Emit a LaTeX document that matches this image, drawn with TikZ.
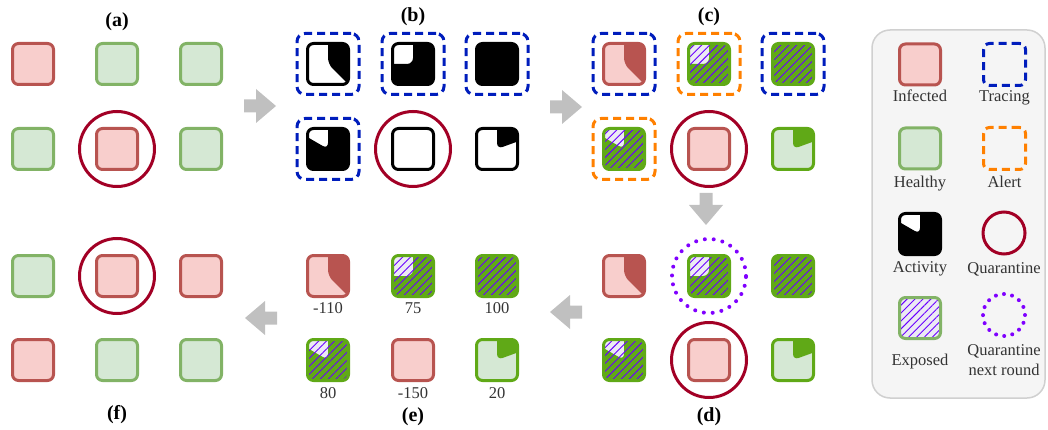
\documentclass[tikz,border=0pt]{standalone}
\usepackage{fontspec}
\setmainfont{Liberation Serif}
\usetikzlibrary{patterns.meta}
\definecolor{infF}{HTML}{F8CECC}
\definecolor{infD}{HTML}{B85450}
\definecolor{heaF}{HTML}{D5E8D4}
\definecolor{heaD}{HTML}{82B366}
\definecolor{expG}{HTML}{60A917}
\definecolor{lavF}{HTML}{ECEAF4}
\definecolor{hatchc}{HTML}{6A00FF}
\definecolor{trc}{HTML}{001DBC}
\definecolor{alr}{HTML}{FF8000}
\definecolor{qrn}{HTML}{A20025}
\definecolor{qnx}{HTML}{7F00FF}
\definecolor{arrc}{HTML}{C0C0C0}
\definecolor{txt}{HTML}{333333}
\definecolor{legF}{HTML}{F5F5F5}
\definecolor{legD}{HTML}{D0D0D0}
\newcommand\piefill[2]{\fill[#1] (path picture bounding box.center) -- ++(90:40pt) arc[start angle=90, delta angle=-#2, radius=40pt] -- cycle;}
\newcommand\hatchall{\fill[pattern={Lines[angle=45,distance=5.6pt,line width=0.9pt]}, pattern color=hatchc, fill opacity=0.55] (path picture bounding box.south west) rectangle (path picture bounding box.north east);}
\newcommand\rarrow[2]{\fill[arrc] (#1,#2+6.5) -- (#1+12,#2+6.5) -- (#1+12,#2+17) -- (#1+32,#2) -- (#1+12,#2-17) -- (#1+12,#2-6.5) -- (#1,#2-6.5) -- cycle;}
\newcommand\larrow[2]{\fill[arrc] (#1,#2) -- (#1+20,#2+17) -- (#1+20,#2+6.5) -- (#1+32,#2+6.5) -- (#1+32,#2-6.5) -- (#1+20,#2-6.5) -- (#1+20,#2-17) -- cycle;}
\newcommand\darrow[2]{\fill[arrc] (#1-6.5,#2) -- (#1+6.5,#2) -- (#1+6.5,#2-12) -- (#1+17,#2-12) -- (#1,#2-32) -- (#1-17,#2-12) -- (#1-6.5,#2-12) -- cycle;}
\tikzset{
 cellbox/.style={rectangle, minimum size=41pt, inner sep=0pt, outer sep=0pt, rounded corners=6pt, line width=3pt},
 inf/.style={cellbox, fill=infF, draw=infD},
 hea/.style={cellbox, fill=heaF, draw=heaD},
 iact/.style={cellbox, fill=infF, draw=infD, path picture={\piefill{infD}{#1}}},
 hact/.style={cellbox, fill=heaF, draw=expG, path picture={\piefill{expG}{#1}}},
 eact/.style={cellbox, fill=lavF, draw=expG, path picture={\piefill{expG}{#1}\hatchall}},
 bact/.style={cellbox, fill=white, draw=black, path picture={\piefill{black}{#1}}},
 legexp/.style={cellbox, fill=lavF, draw=heaD, path picture={\hatchall}},
 trace/.style={rectangle, minimum width=62pt, minimum height=61pt, inner sep=0pt, rounded corners=8pt, draw=trc, line width=3pt, dash pattern=on 8pt off 5pt},
 alert/.style={trace, draw=alr},
 qcirc/.style={circle, minimum size=75pt, inner sep=0pt, draw=qrn, line width=3pt},
 qnext/.style={circle, minimum size=74pt, inner sep=0pt, draw=qnx, line width=4pt, line cap=round, dash pattern=on 0pt off 8.9pt},
 val/.style={font=\fontsize{16.5}{18}\selectfont, text=txt, anchor=base, inner sep=0pt},
 plabel/.style={font=\fontsize{20}{22}\selectfont\bfseries, anchor=base, inner sep=0pt},
 legbox/.style={rectangle, minimum width=173pt, minimum height=368pt, rounded corners=18pt, fill=legF, draw=legD, line width=1.5pt}
}
\begin{document}
\begin{tikzpicture}[x=1pt,y=1pt]
\useasboundingbox (0,0) rectangle (1048,-430);
% panel labels
\node[plabel] (la) at (117,-27) {(a)};
\node[plabel] (lb) at (413,-22) {(b)};
\node[plabel] (lc) at (709,-22) {(c)};
\node[plabel] (ld) at (709,-421) {(d)};
\node[plabel] (le) at (413,-421) {(e)};
\node[plabel] (lf) at (117,-419) {(f)};
% panel (a)
\node[inf] (a11) at (33,-64) {};
\node[hea] (a12) at (117,-64) {};
\node[hea] (a13) at (201,-64) {};
\node[hea] (a21) at (33,-149) {};
\node[inf] (a22) at (117,-149) {};
\node[hea] (a23) at (201,-149) {};
\node[qcirc] (aq) at (a22) {};
% panel (b)
\node[bact=135] (b11) at (328,-64) {};
\node[bact=270] (b12) at (413,-64) {};
\node[bact=360] (b13) at (497,-64) {};
\node[bact=300] (b21) at (328,-149) {};
\node[cellbox, fill=white, draw=black] (b22) at (413,-149) {};
\node[bact=70] (b23) at (497,-149) {};
\node[trace] (bt11) at (b11) {};
\node[trace] (bt12) at (b12) {};
\node[trace] (bt13) at (b13) {};
\node[trace] (bt21) at (b21) {};
\node[qcirc] (bq) at (b22) {};
% panel (c)
\node[iact=135] (c11) at (624,-64) {};
\node[eact=270] (c12) at (709,-64) {};
\node[eact=360] (c13) at (793,-64) {};
\node[eact=300] (c21) at (624,-149) {};
\node[inf] (c22) at (709,-149) {};
\node[hact=70] (c23) at (793,-149) {};
\node[trace] (ct11) at (c11) {};
\node[alert] (ca12) at (c12) {};
\node[trace] (ct13) at (c13) {};
\node[alert] (ca21) at (c21) {};
\node[qcirc] (cq) at (c22) {};
% panel (d)
\node[iact=135] (d11) at (624,-276) {};
\node[eact=270] (d12) at (709,-276) {};
\node[eact=360] (d13) at (793,-276) {};
\node[eact=300] (d21) at (624,-360) {};
\node[inf] (d22) at (709,-360) {};
\node[hact=70] (d23) at (793,-360) {};
\node[qnext] (dn) at (d12) {};
\node[qcirc] (dq) at (d22) {};
% panel (e)
\node[iact=135] (e11) at (328,-276) {};
\node[eact=270] (e12) at (413,-276) {};
\node[eact=360] (e13) at (497,-276) {};
\node[eact=300] (e21) at (328,-360) {};
\node[inf] (e22) at (413,-360) {};
\node[hact=70] (e23) at (497,-360) {};
\node[val] (ev11) at (328,-313) {-110};
\node[val] (ev12) at (413,-313) {75};
\node[val] (ev13) at (497,-313) {100};
\node[val] (ev21) at (328,-398) {80};
\node[val] (ev22) at (413,-398) {-150};
\node[val] (ev23) at (497,-398) {20};
% panel (f)
\node[hea] (f11) at (33,-276) {};
\node[inf] (f12) at (117,-276) {};
\node[inf] (f13) at (201,-276) {};
\node[inf] (f21) at (33,-360) {};
\node[hea] (f22) at (117,-360) {};
\node[hea] (f23) at (201,-360) {};
\node[qcirc] (fq) at (f12) {};
% arrows between panels
\rarrow{244}{-106}
\rarrow{550}{-107}
\darrow{706}{-193}
\larrow{550}{-312}
\larrow{245}{-318}
% legend
\node[legbox] (legend) at (958.5,-214) {};
\node[inf] (gi) at (920,-64.5) {};
\node[val] (gti) at (920,-102) {Infected};
\node[rectangle, minimum size=42pt, inner sep=0pt, rounded corners=6pt, draw=trc, line width=3pt, dash pattern=on 8pt off 5pt] (gt) at (1004.5,-64.5) {};
\node[val] (gtt) at (1004.5,-102) {Tracing};
\node[hea] (gh) at (920,-148.5) {};
\node[val] (gth) at (920,-188) {Healthy};
\node[rectangle, minimum size=42pt, inner sep=0pt, rounded corners=6pt, draw=alr, line width=3pt, dash pattern=on 8pt off 5pt] (ga) at (1004.5,-148.5) {};
\node[val] (gta) at (1004.5,-188) {Alert};
\node[bact=300] (gac) at (920,-234) {};
\node[val] (gtac) at (920,-272) {Activity};
\node[circle, minimum size=42pt, inner sep=0pt, draw=qrn, line width=3pt] (gq) at (1004,-233) {};
\node[val] (gtq) at (1004,-273) {Quarantine};
\node[legexp] (ge) at (920,-318) {};
\node[val] (gte) at (920,-365) {Exposed};
\node[circle, minimum size=42pt, inner sep=0pt, draw=qnx, line width=4pt, line cap=round, dash pattern=on 0pt off 8.25pt] (gn) at (1004,-315) {};
\node[val] (gtn1) at (1004,-355) {Quarantine};
\node[val] (gtn2) at (1004,-375) {next round};
\end{tikzpicture}
\end{document}
